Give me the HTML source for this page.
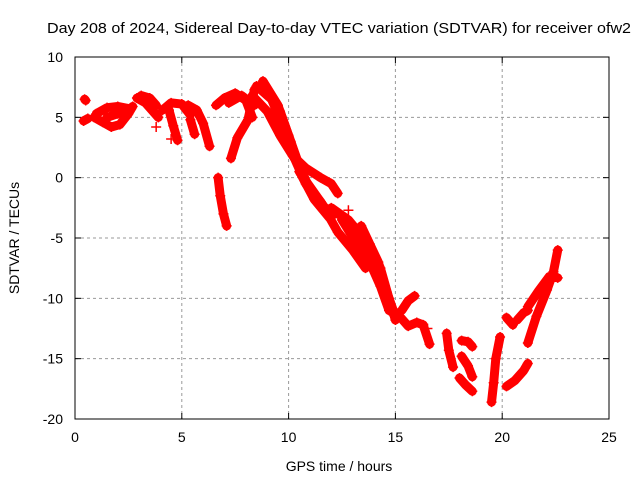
<!DOCTYPE html>
<html><head><meta charset="utf-8"><style>
body{margin:0;background:#fff}
svg{display:block;font-family:"Liberation Sans",sans-serif}
</style></head><body>
<svg id="chart" width="640" height="480">
<text x="339" y="33" text-anchor="middle" font-size="15" textLength="584" lengthAdjust="spacingAndGlyphs">Day 208 of 2024, Sidereal Day-to-day VTEC variation (SDTVAR) for receiver ofw2</text>
<g id="grid"></g>
<g id="ticks"></g>
<g id="marks"></g>
<rect x="75" y="57" width="534" height="362" fill="none" stroke="#000" stroke-width="1"/>
<text x="339" y="471" text-anchor="middle" font-size="14">GPS time / hours</text>
<text transform="translate(19,238) rotate(-90)" text-anchor="middle" font-size="14">SDTVAR / TECUs</text>
</svg>
<script>
const xTicks=[0,5,10,15,20,25];
const yTicks=[-20,-15,-10,-5,0,5,10];
// tracks: arrays of [hour, value]
const track1=[[0.45,6.5],[0.5,6.4]];
const track2=[[0.4,4.7],[0.6,4.9]];
const track3=[[0.9,5.0],[1.3,4.6],[1.7,4.2],[2.1,4.4],[2.5,5.3],[2.7,5.9]];
const track4=[[1.0,5.3],[1.5,5.8],[2.0,5.9],[2.6,5.7]];
const track5=[[2.9,6.6],[3.3,6.2],[3.6,5.6],[3.9,5.0]];
const track6=[[4.1,5.6],[4.5,6.2],[5.0,6.1],[5.4,5.2]];
const track7=[[4.4,5.6],[4.6,4.3],[4.8,3.1]];
const track8=[[5.3,6.0],[5.7,5.6],[6.0,4.5],[6.3,2.6]];
const track9=[[5.4,4.8],[5.6,3.6]];
const track10=[[6.6,6.0],[7.0,6.6],[7.5,7.0],[8.0,6.4],[8.3,5.0]];
const track11=[[6.7,0.0],[6.8,-1.5],[6.95,-3.0],[7.1,-4.0]];
const track12=[[7.3,1.6],[7.6,3.3],[8.1,4.8],[8.4,7.3]];
const track13=[[8.5,7.6],[9.2,6.5],[9.8,4.0],[10.3,1.5],[10.8,-0.5],[11.5,-2.0],[12.0,-3.3]];
const track14=[[8.8,8.0],[9.5,6.0],[10.0,3.5],[10.5,1.0],[11.0,-1.0],[11.7,-2.5],[12.3,-3.0]];
const track15=[[8.3,6.8],[9.0,5.5],[9.6,3.5],[10.2,1.8],[10.8,0.8],[11.5,0.0],[12.0,-0.5],[12.3,-1.3]];
const track16=[[10.5,0.5],[11.5,-2.0],[12.3,-4.5],[13.0,-6.0],[13.6,-7.5]];
const track17=[[12.0,-2.5],[12.8,-3.5],[13.5,-5.0],[14.0,-6.5],[14.5,-9.0],[14.9,-11.0],[15.2,-11.5]];
const track18=[[13.4,-4.0],[13.8,-5.5],[14.2,-7.0],[14.6,-9.5],[14.9,-11.3]];
const track19=[[15.3,-11.0],[15.6,-10.2],[15.9,-9.8]];
const track20=[[15.2,-11.5],[15.6,-12.3],[16.0,-12.0],[16.3,-12.2],[16.6,-13.8]];
const track21=[[17.4,-12.9],[17.5,-14.3],[17.7,-15.7]];
const track22=[[18.1,-13.5],[18.4,-13.6],[18.6,-14.0]];
const track23=[[18.1,-14.8],[18.4,-15.6],[18.6,-16.5]];
const track24=[[18.0,-16.6],[18.3,-17.2],[18.6,-17.7]];
const track25=[[19.9,-13.2],[19.7,-15.0],[19.6,-17.0],[19.5,-18.6]];
const track26=[[20.2,-17.3],[20.6,-16.8],[21.0,-16.0],[21.2,-15.4]];
const track27=[[20.2,-11.6],[20.5,-12.2]];
const track28=[[20.7,-11.8],[21.0,-11.2],[21.2,-11.0]];
const track29=[[21.2,-13.7],[21.6,-11.5],[22.1,-9.3],[22.4,-7.8],[22.6,-6.0]];
const track30=[[21.2,-10.7],[21.7,-9.4],[22.2,-8.2],[22.6,-8.3]];
const track31=[[9.0,7.0],[9.6,5.5],[10.1,3.0],[10.6,0.2],[11.2,-1.8],[11.9,-3.3]];
const track32=[[12.5,-3.5],[13.2,-5.5],[13.8,-7.0],[14.3,-9.0],[14.7,-11.0]];
const track33=[[13.9,-6.0],[14.3,-7.5],[14.7,-10.0],[15.0,-11.8]];
const track34=[[1.5,5.0],[2.0,5.3],[2.4,5.6]];
const track35=[[3.1,6.8],[3.5,6.6],[3.8,6.0]];
const track36=[[7.2,6.2],[7.8,6.8],[8.4,6.0]];
const tracks=[track1,track2,track3,track4,track5,track6,track7,track8,track9,track10,track11,track12,track13,track14,track15,track16,track17,track18,track19,track20,track21,track22,track23,track24,track25,track26,track27,track28,track29,track30,track31,track32,track33,track34,track35,track36];
const strays=[[3.8,4.2],[4.5,3.2],[12.8,-2.7],[16.5,-12.5]];

const X0=75,X1=609,Y0=419,Y1=57;
const xs=t=>X0+(t-0)/(25-0)*(X1-X0);
const ys=v=>Y0-(v+20)/30*(Y0-Y1);
const NS='http://www.w3.org/2000/svg';
function mk(tag,attrs,parent){const e=document.createElementNS(NS,tag);for(const k in attrs)e.setAttribute(k,attrs[k]);parent.appendChild(e);return e;}
const grid=document.getElementById('grid'),ticks=document.getElementById('ticks'),marks=document.getElementById('marks');
xTicks.forEach(t=>{
 const x=xs(t);
 if(t>0&&t<25){const g=mk('line',{x1:x,x2:x,y1:Y1,y2:Y0,stroke:'#999','stroke-dasharray':'3,3'},grid);
 
 }
 mk('line',{x1:x,x2:x,y1:Y0,y2:Y0-6,stroke:'#000'},ticks);
 mk('line',{x1:x,x2:x,y1:Y1,y2:Y1+6,stroke:'#000'},ticks);
 const l=mk('text',{x:x,y:Y0+23,'text-anchor':'middle','font-size':'14'},ticks);l.textContent=t;
 
 
});
yTicks.forEach(v=>{
 const y=ys(v);
 if(v>-20&&v<10){const g=mk('line',{x1:X0,x2:X1,y1:y,y2:y,stroke:'#999','stroke-dasharray':'3,3'},grid);
 
 }
 mk('line',{x1:X0,x2:X0+6,y1:y,y2:y,stroke:'#000'},ticks);
 mk('line',{x1:X1,x2:X1-6,y1:y,y2:y,stroke:'#000'},ticks);
 const l=mk('text',{x:X0-12,y:y+5,'text-anchor':'end','font-size':'14'},ticks);l.textContent=v;
 
 
});
function plus(t,v){
 const x=xs(t),y=ys(v);
 const p=mk('path',{d:`M${x-5},${y}h10M${x},${y-5}v10`,stroke:'#f00','stroke-width':'1.5',fill:'none'},marks);
 
 
}
tracks.forEach(tr=>{
 const pl=mk('polyline',{points:tr.map(p=>xs(p[0])+','+ys(p[1])).join(' '),fill:'none',stroke:'#f00','stroke-width':'9','stroke-linejoin':'round','stroke-linecap':'round'},marks);
 
 
 tr.forEach(p=>plus(p[0],p[1]));
});
strays.forEach(p=>plus(p[0],p[1]));
</script>
</body></html>
